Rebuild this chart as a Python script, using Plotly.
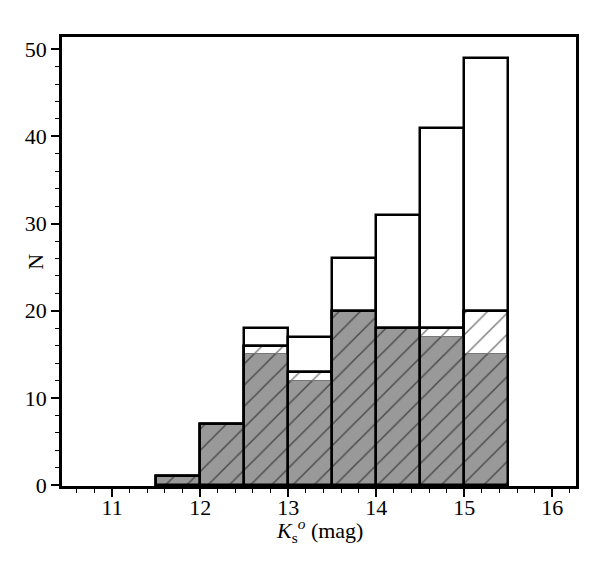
import plotly.graph_objects as go

bin_centers = [11.75, 12.25, 12.75, 13.25, 13.75, 14.25, 14.75, 15.25]
n_total = [1, 7, 18, 17, 26, 31, 41, 49]
n_hatched = [1, 7, 16, 13, 20, 18, 18, 20]
n_gray = [1, 7, 15, 12, 20, 18, 17, 15]

bin_width = 0.5
font = 'Liberation Serif'

fig = go.Figure()

# all sources, open bars
fig.add_trace(go.Bar(
  x = bin_centers,
  y = n_total,
  width = bin_width,
  marker = dict(color = 'white', line = dict(color = 'black', width = 2.5)),
  showlegend = False
))

# hatched subset
fig.add_trace(go.Bar(
  x = bin_centers,
  y = n_hatched,
  width = bin_width,
  marker = dict(
    color = 'white',
    line = dict(color = 'black', width = 2.5),
    pattern = dict(shape = '/', fgcolor = 'black', bgcolor = 'white', size = 15, solidity = 0.1)
  ),
  showlegend = False
))

# filled subset
fig.add_trace(go.Bar(
  x = bin_centers,
  y = n_gray,
  width = bin_width,
  marker = dict(
    color = '#999999',
    line = dict(color = '#777777', width = 1),
    pattern = dict(shape = '/', fgcolor = 'black', bgcolor = '#999999', size = 15, solidity = 0.1)
  ),
  showlegend = False
))

# outline again so the edges sit on top of the fill
fig.add_trace(go.Bar(
  x = bin_centers,
  y = n_hatched,
  width = bin_width,
  marker = dict(color = 'rgba(0,0,0,0)', line = dict(color = 'black', width = 2.5)),
  showlegend = False
))

axis_style = dict(
  showline = True,
  linecolor = 'black',
  linewidth = 2.5,
  mirror = True,
  ticks = 'outside',
  ticklen = 8,
  tickwidth = 2,
  tickcolor = 'black',
  showgrid = False,
  zeroline = False,
  automargin = False,
  tickfont = dict(family = font, size = 22, color = 'black'),
)

fig.update_xaxes(
  range = [10.43, 16.27],
  tickmode = 'array',
  tickvals = [11, 12, 13, 14, 15, 16],
  ticklabelstandoff = -8,
  minor = dict(dtick = 0.2, tick0 = 11, ticks = 'outside', ticklen = 4, tickwidth = 1, tickcolor = 'black'),
  **axis_style
)

fig.update_yaxes(
  range = [-0.1, 51.4],
  tickmode = 'array',
  tickvals = [0, 10, 20, 30, 40, 50],
  minor = dict(dtick = 2, tick0 = 0, ticks = 'outside', ticklen = 4, tickwidth = 1, tickcolor = 'black'),
  **axis_style
)

# axis titles as annotations so they sit close to the axes
fig.add_annotation(
  text = '<i>K</i><sub>s</sub><sup><i>o</i></sup> (mag)',
  xref = 'paper', yref = 'paper', x = 0.5, y = -0.1,
  xanchor = 'center', yanchor = 'middle', showarrow = False,
  font = dict(family = font, size = 22, color = 'black')
)
fig.add_annotation(
  text = 'N',
  xref = 'paper', yref = 'paper', x = -0.052, y = 0.5,
  xanchor = 'center', yanchor = 'middle', showarrow = False, textangle = -90,
  font = dict(family = font, size = 22, color = 'black')
)

fig.update_layout(
  barmode = 'overlay',
  bargap = 0,
  width = 612,
  height = 576,
  plot_bgcolor = 'white',
  paper_bgcolor = 'white',
  margin = dict(l=54, r=44, t=29, b=98)
)

fig.write_html("out.html")
